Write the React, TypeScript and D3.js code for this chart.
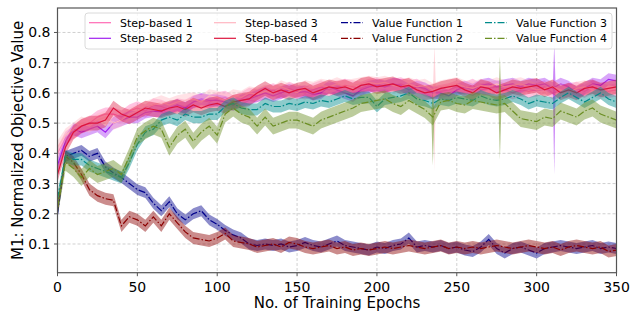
import React from 'react';
import * as d3 from 'd3';

const W = 631;
const H = 314;
const margin = { top: 8, right: 14.5, bottom: 41.3, left: 57.5 };

// epochs sampled every 5
const EPOCHS = d3.range(0, 351, 5);

const STEP_1 = [0.4, 0.45, 0.47, 0.49, 0.5, 0.52, 0.53, 0.53, 0.52, 0.54, 0.55, 0.54, 0.56, 0.555, 0.545, 0.56, 0.555, 0.57, 0.575, 0.57, 0.58, 0.585, 0.57, 0.58, 0.595, 0.59, 0.6, 0.61, 0.6, 0.615, 0.605, 0.6, 0.61, 0.62, 0.61, 0.62, 0.625, 0.62, 0.615, 0.625, 0.63, 0.62, 0.625, 0.63, 0.62, 0.625, 0.61, 0.6, 0.605, 0.61, 0.62, 0.615, 0.625, 0.61, 0.615, 0.62, 0.61, 0.6, 0.61, 0.605, 0.61, 0.62, 0.6, 0.605, 0.61, 0.615, 0.605, 0.62, 0.61, 0.605, 0.61];
const STEP_2 = [0.36, 0.44, 0.48, 0.47, 0.48, 0.49, 0.47, 0.5, 0.51, 0.52, 0.52, 0.535, 0.54, 0.54, 0.55, 0.56, 0.55, 0.57, 0.58, 0.575, 0.575, 0.57, 0.56, 0.575, 0.58, 0.59, 0.6, 0.59, 0.6, 0.61, 0.6, 0.605, 0.595, 0.6, 0.62, 0.61, 0.6, 0.59, 0.61, 0.62, 0.625, 0.62, 0.63, 0.625, 0.61, 0.62, 0.615, 0.6, 0.6, 0.59, 0.61, 0.62, 0.61, 0.625, 0.63, 0.62, 0.625, 0.63, 0.62, 0.63, 0.625, 0.63, 0.615, 0.63, 0.62, 0.6, 0.615, 0.63, 0.625, 0.645, 0.64];
const STEP_3 = [0.42, 0.46, 0.48, 0.5, 0.49, 0.51, 0.52, 0.5, 0.51, 0.53, 0.54, 0.55, 0.56, 0.57, 0.56, 0.57, 0.575, 0.58, 0.57, 0.59, 0.585, 0.575, 0.59, 0.585, 0.6, 0.595, 0.605, 0.6, 0.62, 0.61, 0.6, 0.62, 0.615, 0.625, 0.62, 0.63, 0.62, 0.625, 0.63, 0.635, 0.63, 0.635, 0.625, 0.62, 0.63, 0.62, 0.625, 0.61, 0.62, 0.625, 0.63, 0.62, 0.615, 0.625, 0.62, 0.63, 0.62, 0.625, 0.63, 0.62, 0.61, 0.615, 0.62, 0.61, 0.6, 0.615, 0.62, 0.61, 0.6, 0.615, 0.62];
const STEP_4 = [0.33, 0.42, 0.47, 0.49, 0.5, 0.5, 0.51, 0.55, 0.53, 0.52, 0.535, 0.55, 0.545, 0.54, 0.55, 0.555, 0.545, 0.56, 0.55, 0.56, 0.565, 0.555, 0.57, 0.575, 0.58, 0.6, 0.615, 0.6, 0.61, 0.6, 0.61, 0.615, 0.6, 0.61, 0.62, 0.615, 0.62, 0.61, 0.625, 0.63, 0.62, 0.625, 0.63, 0.62, 0.625, 0.61, 0.6, 0.605, 0.615, 0.62, 0.625, 0.61, 0.6, 0.62, 0.615, 0.6, 0.61, 0.62, 0.615, 0.62, 0.625, 0.61, 0.62, 0.6, 0.61, 0.6, 0.615, 0.62, 0.61, 0.615, 0.62];
const VALUE_1 = [0.2, 0.39, 0.4, 0.41, 0.39, 0.4, 0.355, 0.335, 0.32, 0.3, 0.28, 0.27, 0.235, 0.21, 0.24, 0.2, 0.18, 0.2, 0.21, 0.18, 0.165, 0.145, 0.13, 0.12, 0.1, 0.095, 0.1, 0.095, 0.1, 0.09, 0.095, 0.105, 0.095, 0.09, 0.1, 0.11, 0.095, 0.09, 0.085, 0.08, 0.09, 0.085, 0.095, 0.1, 0.12, 0.09, 0.095, 0.09, 0.095, 0.085, 0.09, 0.08, 0.075, 0.09, 0.115, 0.085, 0.07, 0.085, 0.09, 0.08, 0.07, 0.085, 0.09, 0.095, 0.09, 0.085, 0.09, 0.095, 0.085, 0.09, 0.085];
const VALUE_2 = [0.22, 0.39, 0.37, 0.33, 0.28, 0.26, 0.25, 0.245, 0.16, 0.19, 0.18, 0.16, 0.19, 0.16, 0.2, 0.17, 0.14, 0.12, 0.115, 0.11, 0.12, 0.135, 0.11, 0.105, 0.1, 0.09, 0.095, 0.1, 0.09, 0.105, 0.1, 0.09, 0.085, 0.09, 0.095, 0.085, 0.09, 0.08, 0.085, 0.08, 0.085, 0.09, 0.085, 0.09, 0.095, 0.09, 0.085, 0.09, 0.095, 0.085, 0.09, 0.085, 0.09, 0.085, 0.09, 0.095, 0.09, 0.085, 0.09, 0.095, 0.09, 0.085, 0.09, 0.08, 0.09, 0.095, 0.09, 0.085, 0.09, 0.075, 0.08];
const VALUE_3 = [0.25, 0.39, 0.38, 0.38, 0.36, 0.35, 0.34, 0.33, 0.32, 0.37, 0.43, 0.47, 0.48, 0.51, 0.52, 0.51, 0.53, 0.52, 0.52, 0.53, 0.53, 0.555, 0.565, 0.55, 0.545, 0.545, 0.565, 0.555, 0.555, 0.565, 0.56, 0.57, 0.565, 0.575, 0.57, 0.58, 0.59, 0.58, 0.585, 0.585, 0.555, 0.58, 0.585, 0.59, 0.6, 0.58, 0.575, 0.565, 0.58, 0.575, 0.585, 0.58, 0.575, 0.59, 0.58, 0.575, 0.58, 0.59, 0.58, 0.565, 0.575, 0.57, 0.565, 0.585, 0.6, 0.585, 0.57, 0.585, 0.6, 0.58, 0.57];
const VALUE_4 = [0.22, 0.37, 0.35, 0.32, 0.35, 0.33, 0.34, 0.35, 0.33, 0.39, 0.455, 0.475, 0.49, 0.48, 0.42, 0.46, 0.48, 0.44, 0.47, 0.49, 0.46, 0.53, 0.55, 0.53, 0.52, 0.49, 0.52, 0.49, 0.5, 0.51, 0.51, 0.5, 0.49, 0.51, 0.52, 0.53, 0.54, 0.55, 0.565, 0.57, 0.575, 0.58, 0.565, 0.555, 0.575, 0.56, 0.545, 0.52, 0.57, 0.575, 0.565, 0.56, 0.575, 0.57, 0.565, 0.56, 0.565, 0.54, 0.515, 0.51, 0.505, 0.52, 0.515, 0.54, 0.53, 0.52, 0.54, 0.55, 0.53, 0.52, 0.51];

const NAMES = ['Step-based 1', 'Step-based 2', 'Step-based 3', 'Step-based 4', 'Value Function 1', 'Value Function 2', 'Value Function 3', 'Value Function 4'];
const MEANS = [STEP_1, STEP_2, STEP_3, STEP_4, VALUE_1, VALUE_2, VALUE_3, VALUE_4];
const SPREAD = [0.022, 0.02, 0.022, 0.024, 0.018, 0.02, 0.02, 0.028];
const COLORS = ['#ff69b4', '#a020f0', '#ffb6c1', '#dc143c', '#00008b', '#8b0000', '#008b8b', '#6b8e23'];

// single-epoch outliers in the shaded bands
const SPIKES = [
  { series: 2, epoch: 236, mean: 0.61, lo: 0.34, hi: 0.76 },
  { series: 7, epoch: 235, mean: 0.52, lo: 0.36, hi: 0.6 },
  { series: 7, epoch: 277, mean: 0.56, lo: 0.38, hi: 0.72 },
  { series: 1, epoch: 311, mean: 0.615, lo: 0.33, hi: 0.76 },
];

const Y_TICKS = [0.1, 0.2, 0.3, 0.4, 0.5, 0.6, 0.7, 0.8];
const X_TICKS = [0, 50, 100, 150, 200, 250, 300, 350];

type Pt = { e: number; m: number; lo: number; hi: number };

function buildSeries(i: number): Pt[] {
  return EPOCHS.map((e, j) => ({ e, m: MEANS[i][j], lo: MEANS[i][j] - SPREAD[i], hi: MEANS[i][j] + SPREAD[i] }));
}

export default function App() {
  const x = d3.scaleLinear().domain([0, 350]).range([margin.left, W - margin.right]);
  const y = d3.scaleLinear().domain([0.005, 0.881]).range([H - margin.bottom, margin.top]);

  const area = d3.area<Pt>().x(d => x(d.e)).y0(d => y(d.lo)).y1(d => y(d.hi));
  const line = d3.line<Pt>().x(d => x(d.e)).y(d => y(d.m));

  const series = NAMES.map((n, i) => buildSeries(i));
  const font = 'DejaVu Sans, sans-serif';
  const x0 = margin.left, x1 = W - margin.right, y0 = H - margin.bottom, y1 = margin.top;

  // narrow spike shape: one epoch wide
  const spikePts = (s: typeof SPIKES[number]): Pt[] => {
    const sd = SPREAD[s.series];
    return [
      { e: s.epoch - 0.8, m: s.mean, lo: s.mean - sd, hi: s.mean + sd },
      { e: s.epoch, m: s.mean, lo: s.lo, hi: s.hi },
      { e: s.epoch + 0.8, m: s.mean, lo: s.mean - sd, hi: s.mean + sd },
    ];
  };

  const legendCols = [
    { lx: 89, items: [0, 1] },
    { lx: 214, items: [2, 3] },
    { lx: 341, items: [4, 5] },
    { lx: 485, items: [6, 7] },
  ];

  return (
    <svg width={W} height={H} style={{ position: 'absolute', left: 0, top: 0 }} fontFamily={font}>
      <rect width={W} height={H} fill="#fff" />
      <defs>
        <clipPath id="plot">
          <rect x={x0} y={y1} width={x1 - x0} height={y0 - y1} />
        </clipPath>
      </defs>
      {/* grid */}
      <g stroke="#c4c4c4" strokeWidth={0.8} strokeDasharray="3,2">
        {X_TICKS.map(t => <line key={'gx' + t} x1={x(t)} x2={x(t)} y1={y1} y2={y0} />)}
        {Y_TICKS.map(t => <line key={'gy' + t} x1={x0} x2={x1} y1={y(t)} y2={y(t)} />)}
      </g>
      <g clipPath="url(#plot)">
        {series.map((pts, i) => (
          <g key={NAMES[i]}>
            <path d={area(pts) || ''} fill={COLORS[i]} fillOpacity={i >= 4 ? 0.45 : 0.4} stroke="none" />
            {SPIKES.filter(s => s.series === i).map(s => (
              <path key={'sp' + s.epoch} d={area(spikePts(s)) || ''} fill={COLORS[i]} fillOpacity={0.55} />
            ))}
            <path d={line(pts) || ''} fill="none" stroke={COLORS[i]} strokeWidth={1.2}
              strokeDasharray={i >= 4 ? '7,2,1.5,2' : undefined} />
          </g>
        ))}
      </g>
      {/* spines */}
      <rect x={x0} y={y1} width={x1 - x0} height={y0 - y1} fill="none" stroke="#555" strokeWidth={1.2} />
      {/* ticks */}
      <g stroke="#555" strokeWidth={1}>
        {X_TICKS.map(t => <line key={'tx' + t} x1={x(t)} x2={x(t)} y1={y0} y2={y0 + 3.5} />)}
        {Y_TICKS.map(t => <line key={'ty' + t} x1={x0 - 3.5} x2={x0} y1={y(t)} y2={y(t)} />)}
      </g>
      <g fontSize={14} fill="#000">
        {X_TICKS.map(t => <text key={'lx' + t} x={x(t)} y={291.5} textAnchor="middle">{t}</text>)}
        {Y_TICKS.map(t => <text key={'ly' + t} x={50.5} y={y(t) + 5} textAnchor="end">{t.toFixed(1)}</text>)}
      </g>
      <text x={(x0 + x1) / 2} y={308} textAnchor="middle" fontSize={15}>No. of Training Epochs</text>
      <text transform={`translate(23,${(y0 + y1) / 2}) rotate(-90)`} textAnchor="middle" fontSize={15}>M1: Normalized Objective Value</text>
      {/* legend */}
      <rect x={85} y={13} width={527} height={36} rx={3} fill="#fff" fillOpacity={0.8} stroke="#d0d0d0" strokeWidth={0.8} />
      {legendCols.map(col => col.items.map((idx, r) => {
        const ly = 22.7 + r * 15.6;
        return (
          <g key={'lg' + idx}>
            <line x1={col.lx} x2={col.lx + 22} y1={ly} y2={ly} stroke={COLORS[idx]} strokeWidth={1.2}
              strokeDasharray={idx >= 4 ? '7,2,1.5,2' : undefined} />
            <text x={col.lx + 31} y={ly + 4} fontSize={11}>{NAMES[idx]}</text>
          </g>
        );
      }))}
    </svg>
  );
}
